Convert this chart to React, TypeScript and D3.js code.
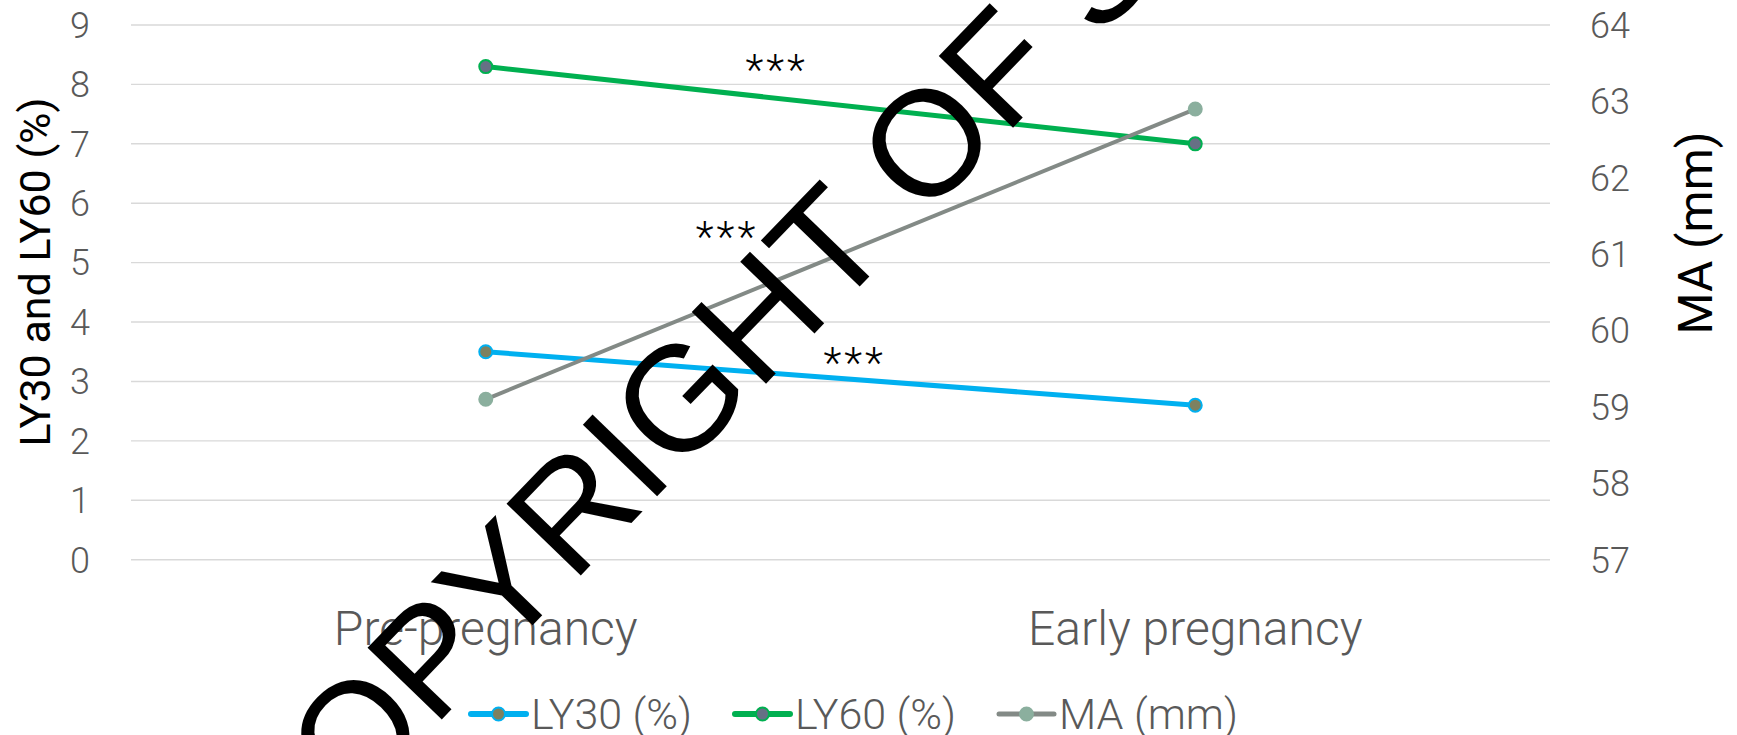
import React from 'react';
import * as d3 from 'd3';

// chart values
const categories = ['Pre-pregnancy', 'Early pregnancy'];
const ly30 = [3.5, 2.6];
const ly60 = [8.3, 7.0];
const ma = [59.1, 62.9];

const leftTicks = [0, 1, 2, 3, 4, 5, 6, 7, 8, 9];
const rightTicks = [57, 58, 59, 60, 61, 62, 63, 64];

const seriesNames = ['LY30 (%)', 'LY60 (%)', 'MA (mm)'];

// significance marks: position between the two categories (0..1) and left-axis value
const starLabels = ['***', '***', '***'];
const starAt = [0.41, 0.34, 0.52];
const starValue = [8.41, 5.6, 3.48];

const W = 1737;
const H = 735;
const FONT = 'Roboto, "Open Sans", sans-serif';

const App = () => {
  const x = d3.scalePoint<string>().domain(categories).range([131, 1550]).padding(0.5);
  const yL = d3.scaleLinear().domain([0, 9]).range([559.7, 25]);
  const yR = d3.scaleLinear().domain([57, 64]).range([559.7, 25]);

  const series = [
    { name: seriesNames[0], values: ly30, y: yL, line: '#00B0F0', width: 5, fill: '#7D8160', stroke: '#00B0F0' },
    { name: seriesNames[1], values: ly60, y: yL, line: '#00B050', width: 5, fill: '#667085', stroke: '#00B050' },
    { name: seriesNames[2], values: ma, y: yR, line: '#838A86', width: 4, fill: '#8BAF9E', stroke: '#8BAF9E' },
  ];

  const x0 = x(categories[0])!;
  const x1 = x(categories[1])!;

  // legend layout
  const legendStart = [471, 735, 999];
  const legendY = 714;

  return (
    <svg
      width={W}
      height={H}
      style={{ position: 'absolute', left: 0, top: 0, display: 'block', background: '#fff' }}
    >
      {/* gridlines */}
      {leftTicks.map((t) => (
        <line key={'g' + t} x1={131} x2={1550} y1={yL(t)} y2={yL(t)} stroke="#D9D9D9" strokeWidth={1.4} />
      ))}

      {/* left tick labels */}
      {leftTicks.map((t) => (
        <text key={'l' + t} x={90} y={yL(t) + 12.8} textAnchor="end" fontFamily={FONT} fontWeight={300} fontSize={36} fill="#595959">
          {t}
        </text>
      ))}

      {/* right tick labels */}
      {rightTicks.map((t) => (
        <text key={'r' + t} x={1590} y={yR(t) + 12.8} textAnchor="start" fontFamily={FONT} fontWeight={300} fontSize={36} fill="#595959">
          {t}
        </text>
      ))}

      {/* axis titles */}
      <text transform="translate(50,272) rotate(-90)" textAnchor="middle" fontFamily={FONT} fontSize={43} fill="#000">
        LY30 and LY60 (%)
      </text>
      <text transform="translate(1712,233) rotate(-90)" textAnchor="middle" fontFamily={FONT} fontSize={48} fill="#000">
        MA (mm)
      </text>

      {/* category labels */}
      {categories.map((c) => (
        <text key={c} x={x(c)} y={645} textAnchor="middle" fontFamily={FONT} fontWeight={300} fontSize={48} fill="#595959">
          {c}
        </text>
      ))}

      {/* series */}
      {series.map((s) => {
        const line = d3
          .line<number>()
          .x((_, i) => x(categories[i])!)
          .y((d) => s.y(d));
        return (
          <g key={s.name}>
            <path d={line(s.values) || ''} fill="none" stroke={s.line} strokeWidth={s.width} />
            {s.values.map((v, i) => (
              <circle key={i} cx={x(categories[i])} cy={s.y(v)} r={6.5} fill={s.fill} stroke={s.stroke} strokeWidth={2} />
            ))}
          </g>
        );
      })}

      {/* significance marks */}
      {starLabels.map((s, i) => (
        <text
          key={'s' + i}
          x={x0 + (x1 - x0) * starAt[i]}
          y={yL(starValue[i]) + 24}
          textAnchor="middle"
          fontFamily={FONT}
          fontWeight={300}
          fontSize={42}
          letterSpacing={3}
          fill="#000"
        >
          {s}
        </text>
      ))}

      {/* legend */}
      {series.map((s, i) => (
        <g key={'lg' + i} transform={`translate(${legendStart[i]},${legendY})`}>
          <line x1={0} x2={55} y1={0} y2={0} stroke={s.line} strokeWidth={s.width + 1} strokeLinecap="round" />
          <circle cx={27.5} cy={0} r={6.5} fill={s.fill} stroke={s.stroke} strokeWidth={2} />
          <text x={60} y={15} fontFamily={FONT} fontWeight={300} fontSize={43} fill="#595959">
            {s.name}
          </text>
        </g>
      ))}

      {/* watermark */}
      <text
        transform="translate(277,890) rotate(-46)"
        fontFamily='"Liberation Sans", Arial, sans-serif'
        fontSize={150}
        fill="#000"
      >
        COPYRIGHT OF S
      </text>
    </svg>
  );
};

export default App;
